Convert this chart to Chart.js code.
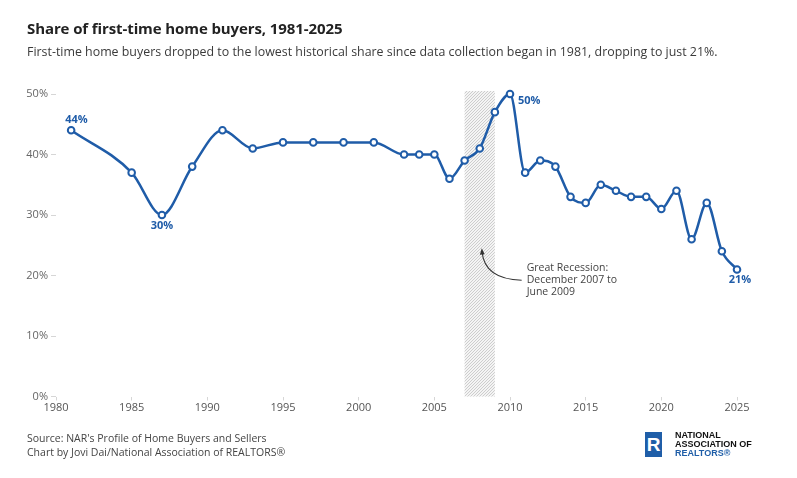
<!DOCTYPE html>
<html>
<head>
<meta charset="utf-8">
<script src="https://cdn.jsdelivr.net/npm/chart.js@4.4.1/dist/chart.umd.min.js"></script>
<style>
    body { margin: 0; background: #fff; font-family: "Open Sans", sans-serif; }
    #wrap { position: relative; width: 797px; height: 478px; overflow: hidden; }
    #chart { position: absolute; left: 0; top: 0; }
    .title { position: absolute; left: 27px; top: 18px; font-size: 15px; font-weight: 700; color: #222; letter-spacing: -0.1px; }
    .subtitle { position: absolute; left: 27px; top: 43px; font-size: 12.4px; color: #3a3a3a; }
    .footer { position: absolute; left: 27px; top: 431px; font-size: 10.5px; line-height: 14px; color: #444; }
    .logo { position: absolute; left: 645px; top: 432px; }
    .logo .mark { position: absolute; left: 0; top: 0; width: 17px; height: 25px; background: #1f5ea8; color: #fff;
        font: 700 19px/25px "Liberation Sans", sans-serif; text-align: center; }
    .logo .name { position: absolute; left: 30px; top: -1px; font: 700 9px/9px "Liberation Sans", sans-serif; color: #111; white-space: nowrap; }
    .logo .name span { color: #1f5ea8; }
</style>
</head>
<body>
<div id="wrap">
    <canvas id="chart" width="797" height="478"></canvas>
    <div class="title">Share of first-time home buyers, 1981-2025</div>
    <div class="subtitle">First-time home buyers dropped to the lowest historical share since data collection began in 1981, dropping to just 21%.</div>
    <div class="footer">Source: NAR's Profile of Home Buyers and Sellers<br>Chart by Jovi Dai/National Association of REALTORS®</div>
    <div class="logo">
        <div class="mark">R</div>
        <div class="name">NATIONAL<br>ASSOCIATION OF<br><span>REALTORS®</span></div>
    </div>
</div>
<script>
// Survey years and first-time buyer share (%)
const years = [1981, 1985, 1987, 1989, 1991, 1993, 1995, 1997, 1999, 2001, 2003, 2004, 2005,
    2006, 2007, 2008, 2009, 2010, 2011, 2012, 2013, 2014, 2015, 2016, 2017, 2018, 2019,
    2020, 2021, 2022, 2023, 2024, 2025];
const shares = [44, 37, 30, 38, 44, 41, 42, 42, 42, 42, 40, 40, 40,
    36, 39, 41, 47, 50, 37, 39, 38, 33, 32, 35, 34, 33, 33,
    31, 34, 26, 32, 24, 21];

// Axis ticks
const xTickYears = [1980, 1985, 1990, 1995, 2000, 2005, 2010, 2015, 2020, 2025];
const yTickValues = [0, 10, 20, 30, 40, 50];

// Highlighted points
const labeledYears = [1981, 1987, 2010, 2025];

// Recession shading
const recessionStart = 2007;
const recessionEnd = 2009;
const recessionNote = ['Great Recession:', 'December 2007 to', 'June 2009'];

const BLUE = '#1f5ca8';

// offsets (px) for the value labels, keyed by year
const labelOffsets = {
    1981: { dx: -6, dy: -10, align: 'left' },
    1987: { dx: 0, dy: 11, align: 'center' },
    2010: { dx: 8, dy: 7, align: 'left' },
    2025: { dx: 3, dy: 10, align: 'center' }
};

function makeHatch(ctx) {
    const c = document.createElement('canvas');
    c.width = 3; c.height = 3;
    const g = c.getContext('2d');
    g.strokeStyle = '#c8c8c8';
    g.lineWidth = 0.9;
    g.beginPath();
    g.moveTo(0, 3); g.lineTo(3, 0);
    g.moveTo(-1, 1); g.lineTo(1, -1);
    g.moveTo(2, 4); g.lineTo(4, 2);
    g.stroke();
    return ctx.createPattern(c, 'repeat');
}

const recessionPlugin = {
    id: 'recession',
    beforeDatasetsDraw(chart) {
        const { ctx, scales: { x, y } } = chart;
        const x0 = x.getPixelForValue(recessionStart);
        const x1 = x.getPixelForValue(recessionEnd);
        const top = y.getPixelForValue(50.5);
        const bottom = y.getPixelForValue(0);
        ctx.save();
        ctx.fillStyle = '#f4f4f4';
        ctx.fillRect(x0, top, x1 - x0, bottom - top);
        ctx.fillStyle = makeHatch(ctx);
        ctx.fillRect(x0, top, x1 - x0, bottom - top);
        ctx.restore();
    },
    afterDatasetsDraw(chart) {
        const { ctx, scales: { x, y } } = chart;
        const tx = x.getPixelForValue(2011.1);
        const ty = y.getPixelForValue(21.2);
        ctx.save();
        ctx.font = '10.5px "Open Sans", sans-serif';
        ctx.fillStyle = '#444';
        ctx.textBaseline = 'middle';
        recessionNote.forEach((line, i) => ctx.fillText(line, tx, ty + i * 12));

        // curved arrow
        const sx = tx - 5, sy = ty + 12;
        const ex = x.getPixelForValue(2008.15), ey = y.getPixelForValue(24.0);
        const cx = x.getPixelForValue(2008.3), cy = sy - 1;
        ctx.strokeStyle = '#333';
        ctx.lineWidth = 1.1;
        ctx.beginPath();
        ctx.moveTo(sx, sy);
        ctx.quadraticCurveTo(cx, cy, ex, ey);
        ctx.stroke();
        const ang = Math.atan2(ey - cy, ex - cx);
        ctx.fillStyle = '#333';
        ctx.beginPath();
        ctx.moveTo(ex + Math.cos(ang) * 3, ey + Math.sin(ang) * 3);
        ctx.lineTo(ex + Math.cos(ang + 2.5) * 4, ey + Math.sin(ang + 2.5) * 4);
        ctx.lineTo(ex + Math.cos(ang - 2.5) * 4, ey + Math.sin(ang - 2.5) * 4);
        ctx.closePath();
        ctx.fill();
        ctx.restore();
    }
};

const valueLabelPlugin = {
    id: 'valueLabels',
    afterDatasetsDraw(chart) {
        const { ctx, scales: { x, y } } = chart;
        ctx.save();
        ctx.font = '700 11px "Open Sans", sans-serif';
        ctx.fillStyle = BLUE;
        ctx.textBaseline = 'middle';
        labeledYears.forEach(yr => {
            const i = years.indexOf(yr);
            const o = labelOffsets[yr];
            ctx.textAlign = o.align;
            ctx.fillText(shares[i] + '%', x.getPixelForValue(yr) + o.dx, y.getPixelForValue(shares[i]) + o.dy);
        });
        ctx.restore();
    }
};

new Chart(document.getElementById('chart'), {
    type: 'line',
    data: {
        datasets: [{
            label: 'Share of first-time buyers',
            data: years.map((yr, i) => ({ x: yr, y: shares[i] })),
            borderColor: BLUE,
            borderWidth: 2.5,
            cubicInterpolationMode: 'monotone',
            pointRadius: 3.3,
            pointBorderWidth: 2,
            pointBackgroundColor: '#fff',
            pointBorderColor: BLUE,
            clip: false
        }]
    },
    options: {
        responsive: false,
        animation: false,
        layout: { padding: { top: 94, right: 60, bottom: 0, left: 0 } },
        plugins: {
            legend: { display: false },
            tooltip: { enabled: false }
        },
        scales: {
            x: {
                type: 'linear',
                min: 1980,
                max: 2025,
                afterBuildTicks: s => { s.ticks = xTickYears.map(v => ({ value: v })); },
                afterFit: s => { s.height = 81.5; },
                border: { display: false },
                grid: { drawOnChartArea: false, drawTicks: true, tickLength: 4, color: '#d6d6d6' },
                ticks: {
                    callback: v => String(v),
                    color: '#555',
                    padding: 1,
                    maxRotation: 0,
                    font: { family: 'Open Sans', size: 11 }
                }
            },
            y: {
                min: 0,
                max: 50,
                afterBuildTicks: s => { s.ticks = yTickValues.map(v => ({ value: v })); },
                afterFit: s => { s.width = 56; },
                border: { display: false },
                grid: { drawOnChartArea: false, drawTicks: true, tickLength: 5, color: '#d6d6d6' },
                ticks: {
                    callback: v => v + '%',
                    color: '#666',
                    padding: 3,
                    font: { family: 'Open Sans', size: 11 }
                }
            }
        }
    },
    plugins: [recessionPlugin, valueLabelPlugin]
});
</script>
</body>
</html>
